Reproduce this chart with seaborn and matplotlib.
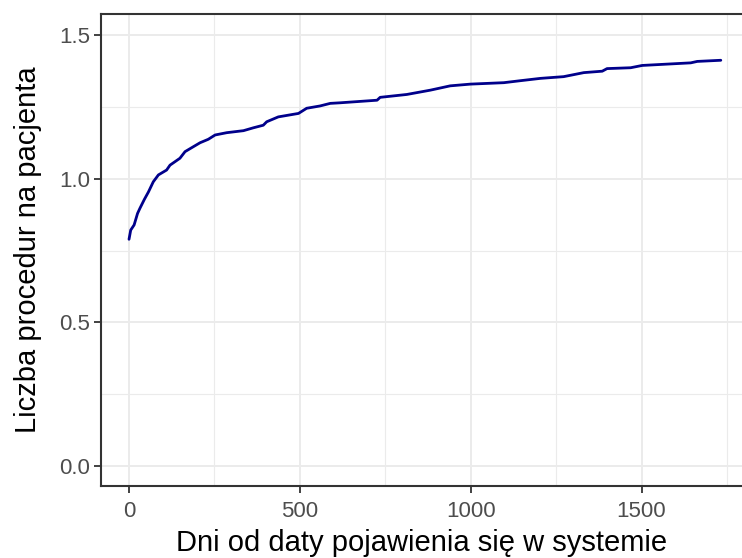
import numpy as np
import pandas as pd
import matplotlib.pyplot as plt
import seaborn as sns
from matplotlib.ticker import MultipleLocator

# values
days = [0, 5, 15, 25, 32, 45, 57, 71, 86, 110, 120, 149, 164, 188, 208, 232,
        252, 286, 335, 364, 393, 403, 437, 496, 520, 559, 589, 618, 726, 735,
        813, 882, 940, 999, 1097, 1146, 1204, 1272, 1331, 1385, 1399, 1468,
        1502, 1644, 1663, 1732]
procedures = [0.789, 0.821, 0.839, 0.879, 0.897, 0.928, 0.954, 0.989, 1.013,
              1.030, 1.047, 1.071, 1.094, 1.111, 1.125, 1.137, 1.152, 1.160,
              1.167, 1.177, 1.186, 1.198, 1.215, 1.227, 1.245, 1.253, 1.262,
              1.264, 1.273, 1.283, 1.293, 1.308, 1.323, 1.329, 1.334, 1.341,
              1.349, 1.355, 1.369, 1.374, 1.383, 1.386, 1.394, 1.403, 1.408,
              1.412]
x_ticks = [0, 500, 1000, 1500]
y_ticks = [0.0, 0.5, 1.0, 1.5]

df = pd.DataFrame({'Dni': days, 'Liczba': procedures})

sns.set_theme(style="white")
plt.rcParams['font.family'] = ['Liberation Sans', 'DejaVu Sans']

fig = plt.figure(figsize=(7.42, 5.58), dpi=100)
ax = fig.add_axes([0.1361, 0.129, 0.8639, 0.8459])

sns.lineplot(data=df, x='Dni', y='Liczba', color='#00008B', linewidth=2.0, ax=ax)

ax.set_xlim(-82, 1794)
ax.set_ylim(-0.0696, 1.573)
ax.set_xticks(x_ticks)
ax.set_xticklabels([str(t) for t in x_ticks])
ax.set_yticks(y_ticks)
ax.set_yticklabels([f"{t:.1f}" for t in y_ticks])
ax.xaxis.set_minor_locator(MultipleLocator(250))
ax.yaxis.set_minor_locator(MultipleLocator(0.25))

ax.grid(which='major', color='#ebebeb', linewidth=1.4)
ax.grid(which='minor', color='#ebebeb', linewidth=0.8)
ax.set_axisbelow(True)

for side in ['left', 'top', 'bottom']:
    ax.spines[side].set_color('#333333')
    ax.spines[side].set_linewidth(1.5)
ax.spines['right'].set_visible(False)

ax.tick_params(which='major', length=5, width=1.3, color='#333333',
               labelcolor='#4d4d4d', labelsize=16, pad=3, left=True, bottom=True)
ax.tick_params(axis='x', which='major', pad=6)
ax.tick_params(which='minor', length=0)

ax.set_xlabel('Dni od daty pojawienia się w systemie', fontsize=21, color='black', labelpad=5)
ax.set_ylabel('Liczba procedur na pacjenta', fontsize=21, color='black', labelpad=12)

fig.savefig('out.png', dpi=100)
